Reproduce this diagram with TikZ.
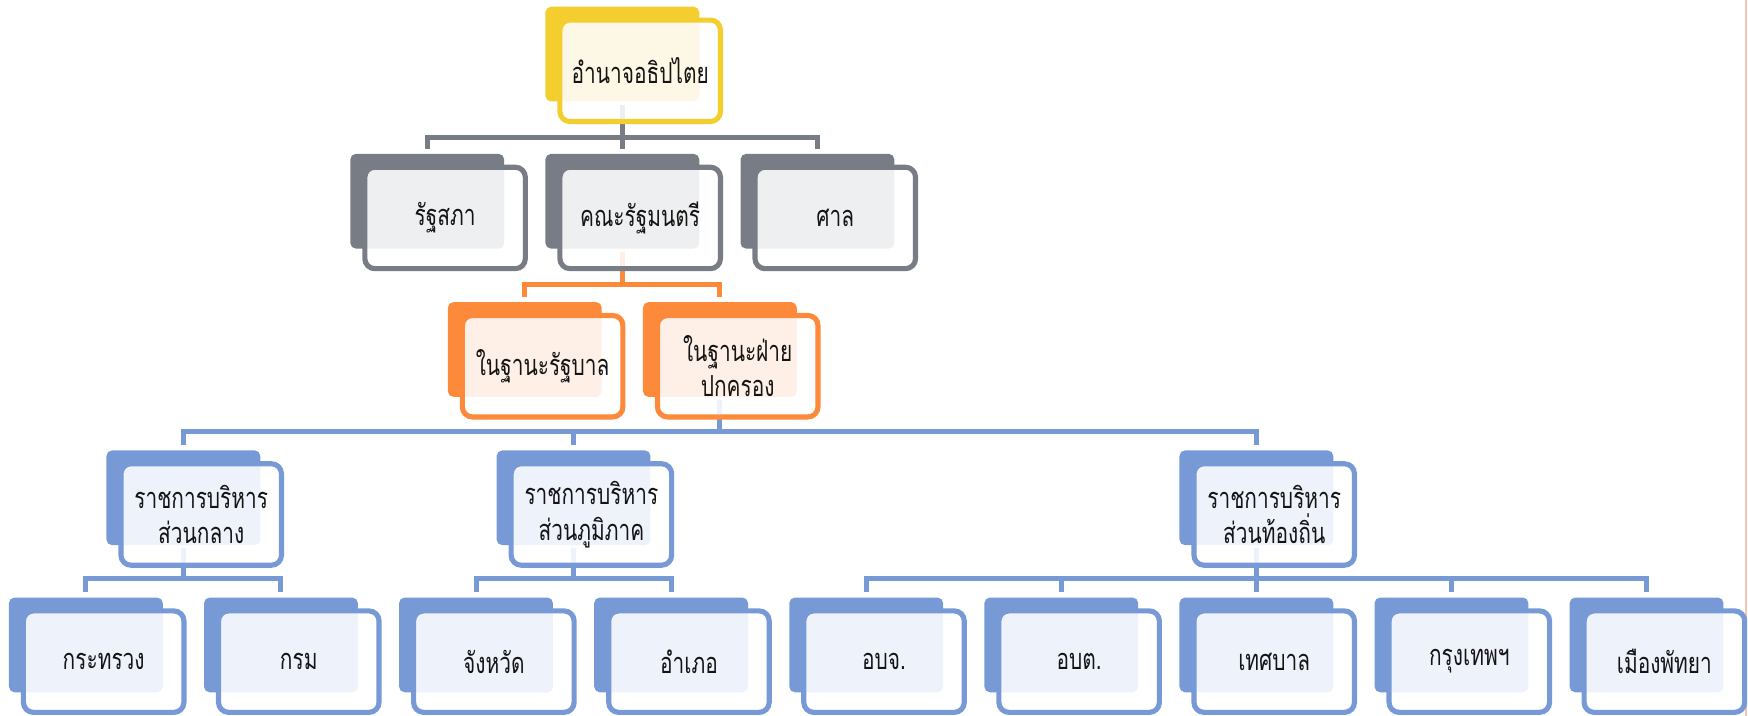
\documentclass[tikz,border=0pt]{standalone}
\usepackage{fontspec}
\newfontfamily\thaifont[Script=Thai,FakeStretch=0.72]{Loma}
\usetikzlibrary{calc}
\definecolor{cyel}{HTML}{F4CD2F}
\definecolor{cgry}{HTML}{787C85}
\definecolor{corg}{HTML}{FD8A3A}
\definecolor{cblu}{HTML}{7799D6}
\definecolor{cpnk}{HTML}{F7C6B2}
\definecolor{ctxt}{HTML}{141414}
\tikzset{
  backbox/.style={rectangle, rounded corners=5pt, fill=#1, minimum width=138pt, minimum height=85pt, inner sep=0pt, outer sep=0pt, anchor=north west},
  frontbox/.style={rectangle, rounded corners=9pt, draw=#1, line width=4.6pt, fill=white, fill opacity=0.88, text opacity=1, minimum width=144pt, minimum height=91pt, inner sep=2pt, outer sep=0pt, anchor=north west, align=center, font=\thaifont\fontsize{26}{32}\selectfont, text=ctxt},
  con/.style={draw=#1, line width=4.5pt, line cap=rect, line join=miter},
}
\newcommand\bk[4]{\node[backbox=#4] (b-#1) at (#2,#3) {};}
\newcommand\fr[3]{\node[frontbox=#2] (f-#1) at ([xshift=13pt,yshift=-12pt]b-#1.north west) {#3};}
\begin{document}
\begin{tikzpicture}[x=1pt,y=-1pt]
\useasboundingbox (0,0) rectangle (1568,642);
\draw[cpnk, line width=1.8pt] (1566,0) -- (1566,642);
% back boxes
\bk{top}{489.25}{6}{cyel}
\bk{ras}{314.25}{138}{cgry}
\bk{kab}{489.25}{138}{cgry}
\bk{san}{664.25}{138}{cgry}
\bk{rtb}{401.75}{271}{corg}
\bk{fpk}{576.75}{271}{corg}
\bk{skl}{95.5}{404}{cblu}
\bk{spm}{445.5}{404}{cblu}
\bk{stt}{1058}{404}{cblu}
\bk{ksw}{8}{536}{cblu}
\bk{krm}{183}{536}{cblu}
\bk{cwt}{358}{536}{cblu}
\bk{amp}{533}{536}{cblu}
\bk{obj}{708}{536}{cblu}
\bk{obt}{883}{536}{cblu}
\bk{tsb}{1058}{536}{cblu}
\bk{bkk}{1233}{536}{cblu}
\bk{pty}{1408}{536}{cblu}
% buses
\coordinate (bus0) at (b-top.south |- 0,123);
\coordinate (bus1) at (b-kab.south |- 0,255);
\coordinate (bus2) at (b-fpk.south |- 0,387);
\coordinate (bus3a) at (b-skl.south |- 0,519);
\coordinate (bus3b) at (b-spm.south |- 0,519);
\coordinate (bus3c) at (b-stt.south |- 0,519);
% connectors
\draw[con=cgry] ([yshift=-5pt]b-top.south) -- (bus0);
\draw[con=cgry] ([yshift=7pt]b-ras.north) |- (bus0) -| ([yshift=7pt]b-san.north);
\draw[con=cgry] (bus0) -- ([yshift=7pt]b-kab.north);
\draw[con=corg] ([yshift=-5pt]b-kab.south) -- (bus1);
\draw[con=corg] ([yshift=7pt]b-rtb.north) |- (bus1) -| ([yshift=7pt]b-fpk.north);
\draw[con=cblu] ([yshift=-5pt]b-fpk.south) -- (bus2);
\draw[con=cblu] ([yshift=7pt]b-skl.north) |- (bus2) -| ([yshift=7pt]b-stt.north);
\draw[con=cblu] ([yshift=7pt]b-spm.north) |- (bus2);
\draw[con=cblu] ([yshift=-5pt]b-skl.south) -- (bus3a);
\draw[con=cblu] ([yshift=7pt]b-ksw.north) |- (bus3a) -| ([yshift=7pt]b-krm.north);
\draw[con=cblu] ([yshift=-5pt]b-spm.south) -- (bus3b);
\draw[con=cblu] ([yshift=7pt]b-cwt.north) |- (bus3b) -| ([yshift=7pt]b-amp.north);
\draw[con=cblu] ([yshift=-5pt]b-stt.south) -- (bus3c);
\draw[con=cblu] ([yshift=7pt]b-obj.north) |- (bus3c) -| ([yshift=7pt]b-pty.north);
\draw[con=cblu] ([yshift=7pt]b-obt.north) |- (bus3c);
\draw[con=cblu] ([yshift=7pt]b-bkk.north) |- (bus3c);
\draw[con=cblu] (bus3c) -- ([yshift=7pt]b-tsb.north);
% front boxes
\fr{top}{cyel}{อำนาจอธิปไตย}
\fr{ras}{cgry}{รัฐสภา}
\fr{kab}{cgry}{คณะรัฐมนตรี}
\fr{san}{cgry}{ศาล}
\fr{rtb}{corg}{ในฐานะรัฐบาล}
\fr{fpk}{corg}{ในฐานะฝ่าย\\ปกครอง}
\fr{skl}{cblu}{ราชการบริหาร\\ส่วนกลาง}
\fr{spm}{cblu}{ราชการบริหาร\\ส่วนภูมิภาค}
\fr{stt}{cblu}{ราชการบริหาร\\ส่วนท้องถิ่น}
\fr{ksw}{cblu}{กระทรวง}
\fr{krm}{cblu}{กรม}
\fr{cwt}{cblu}{จังหวัด}
\fr{amp}{cblu}{อำเภอ}
\fr{obj}{cblu}{อบจ.}
\fr{obt}{cblu}{อบต.}
\fr{tsb}{cblu}{เทศบาล}
\fr{bkk}{cblu}{กรุงเทพฯ}
\fr{pty}{cblu}{เมืองพัทยา}
\end{tikzpicture}
\end{document}
